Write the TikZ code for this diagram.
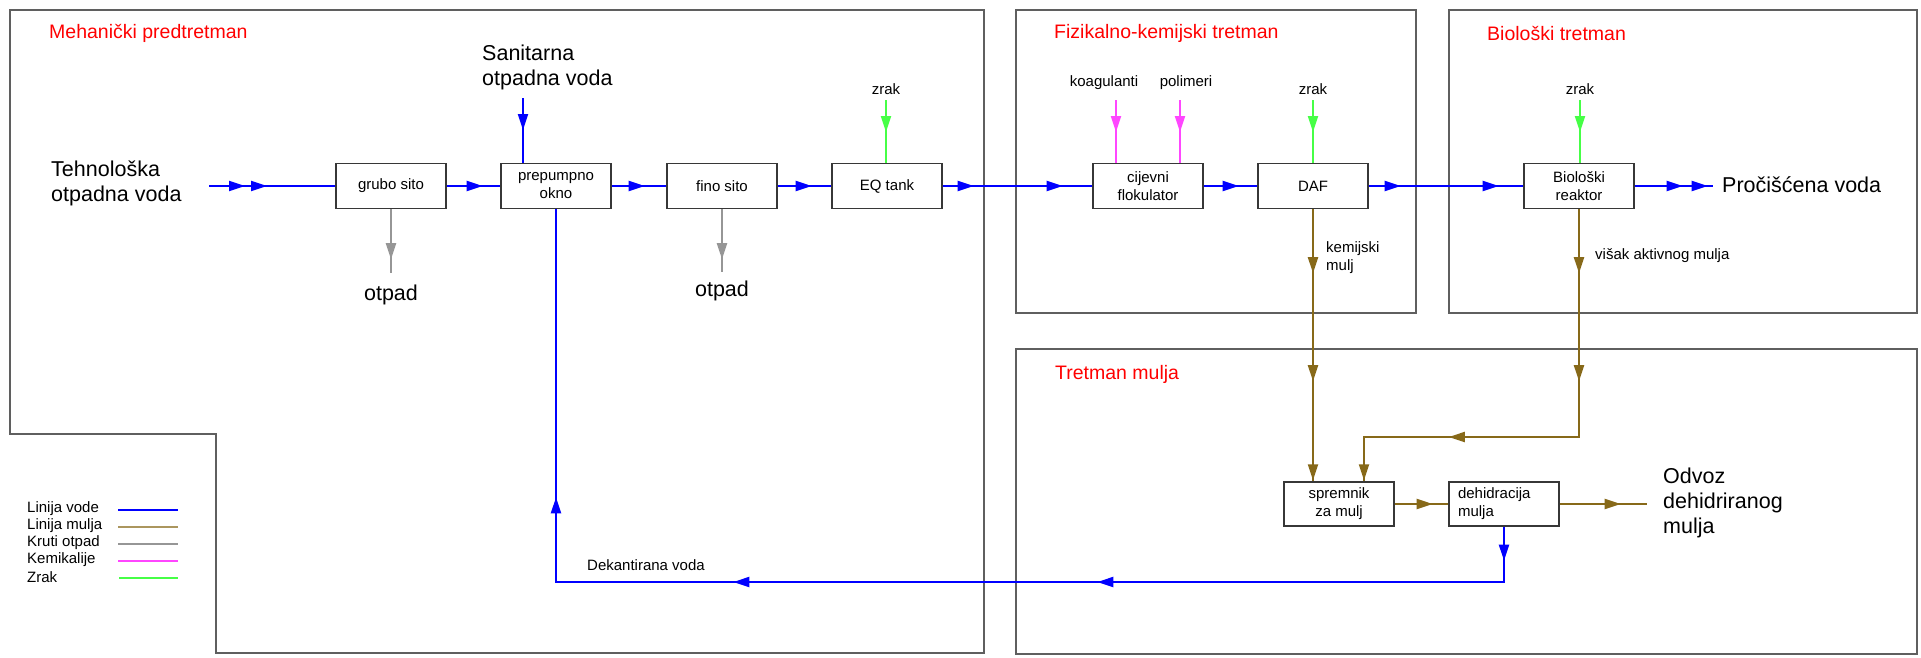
\documentclass[tikz,border=0pt]{standalone}
\usepackage{fontspec}
\setmainfont{Liberation Sans}
\usetikzlibrary{arrows.meta,decorations.markings}
\definecolor{water}{RGB}{0,0,255}
\definecolor{sludge}{RGB}{135,105,25}
\definecolor{solidw}{RGB}{150,150,150}
\definecolor{chem}{RGB}{255,70,255}
\definecolor{air}{RGB}{70,255,70}
\definecolor{framec}{RGB}{95,95,95}
\definecolor{boxline}{RGB}{55,55,55}
\tikzset{
  am/.style={postaction={decorate,decoration={markings,mark=at position #1 with {\arrow{Triangle[length=16pt,width=10pt]}}}}},
  region/.style={draw=framec,line width=1.8pt},
  unit/.style={draw=boxline,line width=1.4pt,minimum width=110pt,minimum height=45pt,align=center,inner sep=2pt,fill=white,font=\fontsize{15}{18}\selectfont},
  wline/.style={draw=water,line width=2pt},
  sline/.style={draw=sludge,line width=2pt},
  gline/.style={draw=solidw,line width=2pt},
  cline/.style={draw=chem,line width=2pt},
  aline/.style={draw=air,line width=2pt},
  titl/.style={anchor=west,text=red,inner sep=0pt,font=\fontsize{19.5}{23}\selectfont},
  big/.style={inner sep=0pt,align=left,font=\fontsize{21.5}{25}\selectfont},
  small/.style={inner sep=0pt,align=left,font=\fontsize{15}{18}\selectfont},
}
\begin{document}
\begin{tikzpicture}[x=1pt,y=-1pt]
\useasboundingbox (0,0) rectangle (1921,657);
\fill[white] (0,0) rectangle (1921,657);
% regions
\draw[region] (10,10) -- (984,10) -- (984,653) -- (216,653) -- (216,434) -- (10,434) -- cycle;
\draw[region] (1016,10) rectangle (1416,313);
\draw[region] (1449,10) rectangle (1917,313);
\draw[region] (1016,349) rectangle (1917,654);
% titles
\node[titl] (t1) at (49,33) {Mehanički predtretman};
\node[titl] (t2) at (1054,33) {Fizikalno-kemijski tretman};
\node[titl] (t3) at (1487,33) {Biološki tretman};
\node[titl] (t4) at (1055,374) {Tretman mulja};
% units
\node[unit] (grubo) at (391,186) {grubo sito};
\node[unit] (prep) at (556,186) {prepumpno\\okno};
\node[unit] (fino) at (722,186) {fino sito};
\node[unit] (eq) at (887,186) {EQ tank};
\node[unit] (cij) at (1148,186) {cijevni\\flokulator};
\node[unit] (daf) at (1313,186) {DAF};
\node[unit] (bio) at (1579,186) {Biološki\\reaktor};
\node[unit,minimum height=44pt] (sprem) at (1339,504) {spremnik\\za mulj};
\node[unit,minimum height=44pt,text width=92pt,align=left,inner xsep=9pt] (dehid) at (1504,504) {dehidracija\\mulja};
% labels
\node[big,anchor=west] (san) at (482,67) {Sanitarna\\otpadna voda};
\node[big,anchor=west] (teh) at (51,183.5) {Tehnološka\\otpadna voda};
\node[big] (ot1) at (391,295) {otpad};
\node[big] (ot2) at (722,291) {otpad};
\node[small] (zr1) at (886,89) {zrak};
\node[small] (zr2) at (1313,89) {zrak};
\node[small] (zr3) at (1580,89) {zrak};
\node[small] (koag) at (1104,83) {koagulanti};
\node[small] (pol) at (1186,83) {polimeri};
\node[small,anchor=west] (kem) at (1326,258) {kemijski\\mulj};
\node[small,anchor=west] (vis) at (1595,256) {višak aktivnog mulja};
\node[big,anchor=west] (proc) at (1722,185) {Pročišćena voda};
\node[big,anchor=west] (odv) at (1663,503) {Odvoz\\dehidriranog\\mulja};
\node[small,anchor=west] (dek) at (587,565) {Dekantirana voda};
% main water line
\coordinate (inS) at (209,186);
\draw[wline,am=36pt,am=58pt] (inS) -- (grubo.west);
\draw[wline,am=36pt] (grubo.east) -- (prep.west);
\draw[wline,am=33pt] (prep.east) -- (fino.west);
\draw[wline,am=34pt] (fino.east) -- (eq.west);
\draw[wline,am=31pt,am=120pt] (eq.east) -- (cij.west);
\draw[wline,am=35pt] (cij.east) -- (daf.west);
\draw[wline,am=32pt,am=130pt] (daf.east) -- (bio.west);
\coordinate (outE) at (1713,186);
\draw[wline,am=48pt,am=73pt] (bio.east) -- (outE);
% inputs from top
\coordinate (sanS) at (523,98);
\draw[wline,am=32pt] (sanS) -- (sanS |- prep.north);
\coordinate (z1S) at (886,100);
\draw[aline,am=32pt] (z1S) -- (z1S |- eq.north);
\coordinate (kS) at (1116,100);
\draw[cline,am=32pt] (kS) -- (kS |- cij.north);
\coordinate (pS) at (1180,100);
\draw[cline,am=32pt] (pS) -- (pS |- cij.north);
\coordinate (z2S) at (1313,100);
\draw[aline,am=32pt] (z2S) -- (z2S |- daf.north);
\coordinate (z3S) at (1580,100);
\draw[aline,am=32pt] (z3S) -- (z3S |- bio.north);
% solid waste
\coordinate (g1E) at (391,273);
\draw[gline,am=50pt] (grubo.south) -- (g1E);
\coordinate (g2E) at (722,272);
\draw[gline,am=50pt] (fino.south) -- (g2E);
% sludge
\draw[sline,am=64pt,am=172pt,am=-1pt] (daf.south) -- (daf.south |- sprem.north);
\coordinate (b2) at (1364,437);
\draw[sline,am=64pt,am=172pt,am=358pt,am=-1pt] (bio.south) |- (b2) -- (b2 |- sprem.north);
\draw[sline,am=38pt] (sprem.east) -- (dehid.west);
\coordinate (odvE) at (1647,504);
\draw[sline,am=61pt] (dehid.east) -- (odvE);
% return (decanted water)
\coordinate (r1) at (1504,582);
\coordinate (r2) at (556,582);
\draw[wline,am=34pt,am=462pt,am=826pt,am=1088pt] (dehid.south) -- (r1) -- (r2) -- (prep.south);
% legend
\node[small,anchor=west] (l1) at (27,509) {Linija vode};
\node[small,anchor=west] (l2) at (27,526) {Linija mulja};
\node[small,anchor=west] (l3) at (27,543) {Kruti otpad};
\node[small,anchor=west] (l4) at (27,560) {Kemikalije};
\node[small,anchor=west] (l5) at (27,577) {Zrak};
\coordinate (la1) at (118,510); \coordinate (lb1) at (178,510);
\coordinate (la2) at (118,527); \coordinate (lb2) at (178,527);
\coordinate (la3) at (118,544); \coordinate (lb3) at (178,544);
\coordinate (la4) at (118,561); \coordinate (lb4) at (178,561);
\coordinate (la5) at (119,578); \coordinate (lb5) at (178,578);
\draw[wline] (la1) -- (lb1);
\draw[draw=sludge!70!white,line width=2pt] (la2) -- (lb2);
\draw[gline] (la3) -- (lb3);
\draw[cline] (la4) -- (lb4);
\draw[aline] (la5) -- (lb5);
\end{tikzpicture}
\end{document}
